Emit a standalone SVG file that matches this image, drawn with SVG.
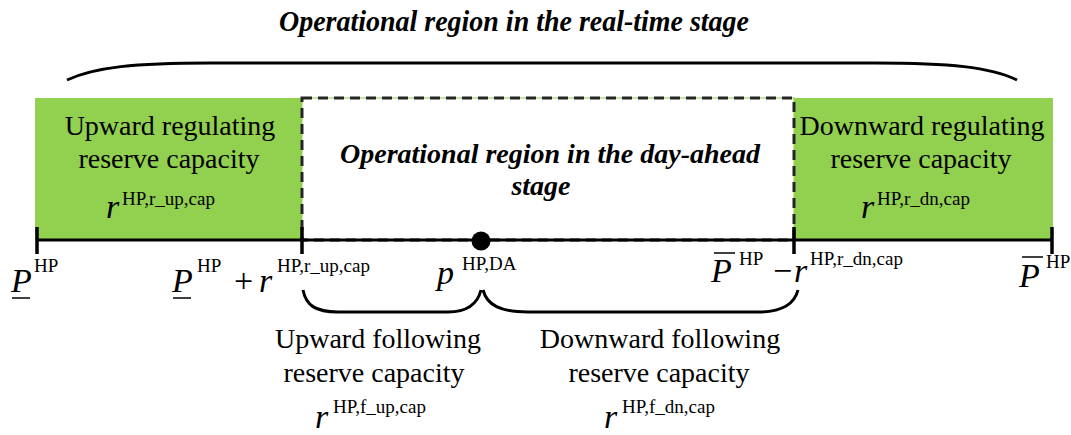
<svg xmlns="http://www.w3.org/2000/svg" width="1071" height="435" viewBox="0 0 1071 435">
<style>
.t{font-family:"Liberation Serif","Times New Roman",serif;fill:#000}
.lbl{font-size:28px;text-anchor:middle}
.bi{font-size:28px;font-weight:bold;font-style:italic;text-anchor:middle}
.v{font-size:34px;font-style:italic}
.s{font-size:19px}
.ln{stroke:#000;fill:none}
</style>
<rect width="1071" height="435" fill="#fff"/>
<g id="title">
<text class="t bi" style="font-size:30px" x="514" y="31" textLength="470" lengthAdjust="spacingAndGlyphs">Operational region in the real-time stage</text>
</g>
<g id="upward-regulating">
<rect x="35" y="98" width="267" height="142" fill="#92D050"/>
<text class="t lbl" x="170" y="135">Upward regulating</text>
<text class="t lbl" x="169" y="168">reserve capacity</text>
<text class="t v" x="106" y="218">r</text>
<text class="t s" x="122" y="205">HP,r_up,cap</text>
</g>
<g id="downward-regulating">
<rect x="794" y="98" width="259" height="142" fill="#92D050"/>
<text class="t lbl" x="922" y="135">Downward regulating</text>
<text class="t lbl" x="921" y="168">reserve capacity</text>
<text class="t v" x="861" y="218">r</text>
<text class="t s" x="877" y="205">HP,r_dn,cap</text>
</g>
<g id="day-ahead">
<rect x="302" y="98" width="492" height="142" fill="#fff" stroke="#92D050" stroke-width="1"/>
<rect x="302" y="98" width="492" height="142" fill="none" stroke="#262626" stroke-width="3" stroke-dasharray="10 6"/>
<text class="t bi" x="550" y="163">Operational region in the day-ahead</text>
<text class="t bi" x="541" y="195">stage</text>
</g>
<g id="connectors">
<path class="ln" stroke-width="3" d="M67,80 C95,67 135,63 210,63 L875,63 C950,63 990,67 1017,80"/>
<line class="ln" stroke-width="3" x1="36" y1="240" x2="1053" y2="240"/>
<line class="ln" stroke-width="3.5" x1="37" y1="227" x2="37" y2="254"/>
<line class="ln" stroke-width="3.5" x1="302" y1="227" x2="302" y2="254"/>
<line class="ln" stroke-width="3.5" x1="794" y1="227" x2="794" y2="254"/>
<line class="ln" stroke-width="3.5" x1="1052" y1="227" x2="1052" y2="254"/>
<circle cx="481" cy="241" r="9.5" fill="#000"/>
<path class="ln" stroke-width="3" d="M303,290 C306,305 315,312 338,312 L448,312 C470,312 478,302 481,290"/>
<path class="ln" stroke-width="3" d="M483,290 C487,305 500,312 528,312 L758,312 C785,312 795,302 798,290"/>
</g>
<g id="label-pmin">
<text class="t v" x="11" y="292">P</text>
<line class="ln" stroke-width="1.5" x1="12" y1="298" x2="30" y2="298"/>
<text class="t s" x="34" y="272">HP</text>
</g>
<g id="label-pmin-plus">
<text class="t v" x="172" y="292">P</text>
<line class="ln" stroke-width="1.5" x1="173" y1="298" x2="191" y2="298"/>
<text class="t s" x="197" y="272">HP</text>
<text class="t" style="font-size:34px" x="234" y="292">+</text>
<text class="t v" x="259" y="292">r</text>
<text class="t s" x="277" y="272">HP,r_up,cap</text>
</g>
<g id="label-pda">
<text class="t v" x="437" y="284">p</text>
<text class="t s" x="462" y="270">HP,DA</text>
</g>
<g id="label-pmax-minus">
<text class="t v" x="711" y="282">P</text>
<line class="ln" stroke-width="1.5" x1="714" y1="253" x2="735" y2="253"/>
<text class="t s" x="739" y="265">HP</text>
<text class="t" style="font-size:34px" x="773" y="282">−</text>
<text class="t v" x="794" y="282">r</text>
<text class="t s" x="810" y="265">HP,r_dn,cap</text>
</g>
<g id="label-pmax">
<text class="t v" x="1019" y="287">P</text>
<line class="ln" stroke-width="1.5" x1="1022" y1="257" x2="1043" y2="257"/>
<text class="t s" x="1046" y="268">HP</text>
</g>
<g id="upward-following">
<text class="t lbl" x="378" y="348">Upward following</text>
<text class="t lbl" x="374" y="382">reserve capacity</text>
<text class="t v" x="315" y="428">r</text>
<text class="t s" x="333" y="413">HP,f_up,cap</text>
</g>
<g id="downward-following">
<text class="t lbl" x="660" y="348">Downward following</text>
<text class="t lbl" x="659" y="382">reserve capacity</text>
<text class="t v" x="604" y="428">r</text>
<text class="t s" x="622" y="413">HP,f_dn,cap</text>
</g>
</svg>
